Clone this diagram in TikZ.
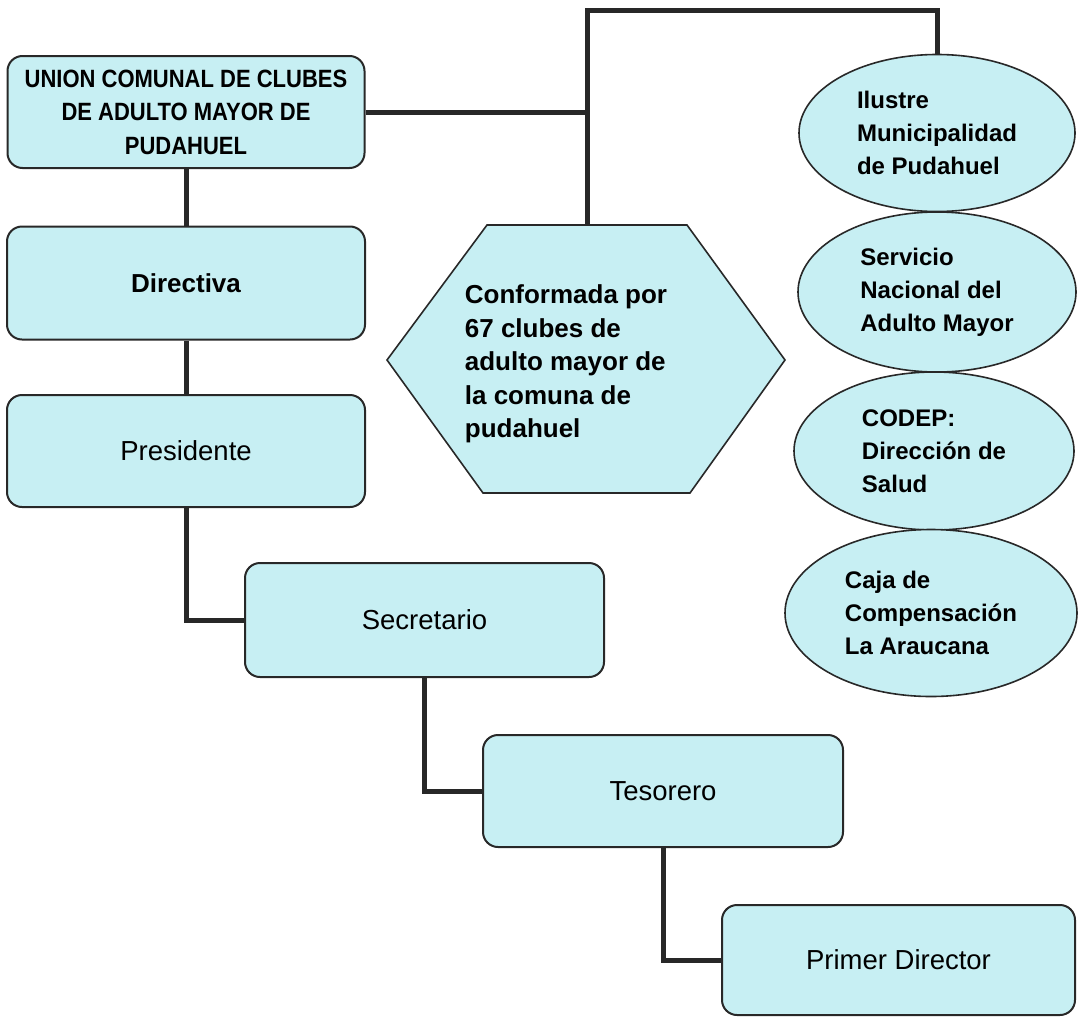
\documentclass[tikz,border=0pt]{standalone}
\usepackage{fontspec}
\setmainfont{Liberation Sans}
\newfontfamily\titlefont[FakeStretch=0.88]{Liberation Sans}
\usetikzlibrary{shapes.geometric}
\definecolor{celeste}{RGB}{199,239,243}
\definecolor{trazo}{RGB}{40,40,40}
\tikzset{
  cargo/.style={draw=trazo, line width=2pt, fill=celeste, rounded corners=15pt,
    inner sep=0pt, font=\fontsize{27.5}{33.5}\selectfont},
  ente/.style={ellipse, draw=trazo, line width=1.6pt, fill=celeste, inner sep=0pt,
    align=left, font=\fontsize{24}{33}\selectfont\bfseries},
  enlace/.style={draw=trazo, line width=5pt}
}

\begin{document}
\begin{tikzpicture}[x=1pt, y=-1pt]
  \useasboundingbox (0,0) rectangle (1078,1017);
  % boxes
  \node[cargo, minimum width=357pt, minimum height=112pt, align=center,
    font=\fontsize{25}{33.5}\selectfont\titlefont\bfseries] (union) at (186,112)
    {UNION COMUNAL DE CLUBES\\DE ADULTO MAYOR DE\\PUDAHUEL};
  \node[cargo, minimum width=358pt, minimum height=113pt,
    font=\fontsize{26}{33.5}\selectfont\bfseries] (directiva) at (186,283) {Directiva};
  \node[cargo, minimum width=358pt, minimum height=112pt] (presidente) at (186,451) {Presidente};
  \node[cargo, minimum width=359pt, minimum height=114pt] (secretario) at (424.5,620) {Secretario};
  \node[cargo, minimum width=360pt, minimum height=112pt] (tesorero) at (663,791) {Tesorero};
  \node[cargo, minimum width=353pt, minimum height=110pt] (primer) at (898.5,960) {Primer Director};
  % hexagon
  \filldraw[draw=trazo, line width=1.6pt, fill=celeste]
    (487,225) -- (687,225) -- (785,360) -- (690,493) -- (483,493) -- (387,360) -- cycle;
  \node[align=left, font=\fontsize{26}{33.5}\selectfont\bfseries] (clubes) at (566,364)
    {Conformada por\\67 clubes de\\adulto mayor de\\la comuna de\\pudahuel};
  \coordinate (hexarriba) at (587,225);
  \coordinate (codo) at (587,10);
  % ellipses
  \node[ente, minimum width=276pt, minimum height=157pt] (muni) at (937,133)
    {Ilustre\\Municipalidad\\de Pudahuel};
  \node[ente, minimum width=278pt, minimum height=160pt] (senama) at (937,292)
    {Servicio\\Nacional del\\Adulto Mayor};
  \node[ente, minimum width=280pt, minimum height=158pt] (codep) at (934,451)
    {CODEP:\\Dirección de\\Salud};
  \node[ente, minimum width=292pt, minimum height=167pt] (caja) at (931,613)
    {Caja de\\Compensación\\La Araucana};
  % lines
  \draw[enlace] (union.east) -- (union.east -| hexarriba);
  \draw[enlace] (hexarriba) -- (codo) -| (muni.north);
  \draw[enlace] (union.south) -- (directiva.north);
  \draw[enlace] (directiva.south) -- (presidente.north);
  \draw[enlace] (presidente.south) |- (secretario.west);
  \draw[enlace] (secretario.south) |- (tesorero.west);
  \draw[enlace] (tesorero.south) |- (primer.west);
\end{tikzpicture}
\end{document}
